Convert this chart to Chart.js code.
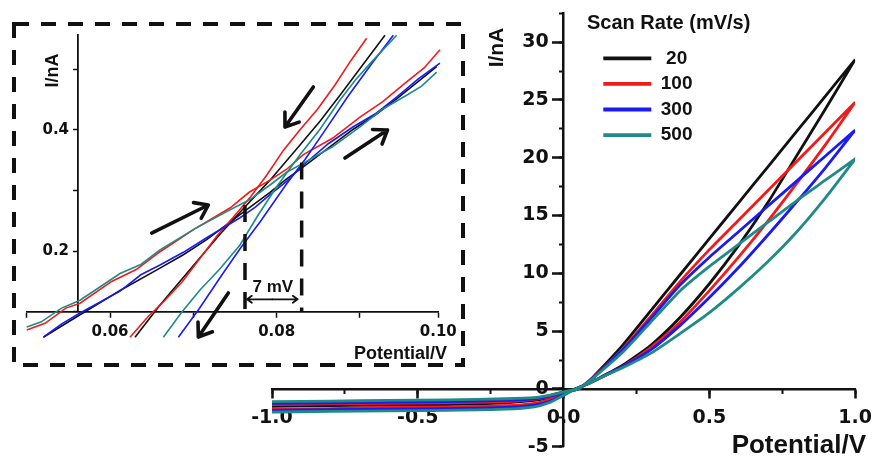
<!DOCTYPE html>
<html>
<head>
<meta charset="utf-8">
<script src="https://cdn.jsdelivr.net/npm/chart.js@4.4.1/dist/chart.umd.min.js"></script>
<style>
html,body{margin:0;padding:0;background:#ffffff;}
#wrap{position:relative;width:882px;height:461px;overflow:hidden;background:#ffffff;}
#main{position:absolute;left:0;top:0;width:882px;height:461px;}
#inset{position:absolute;left:0;top:0;width:480px;height:380px;pointer-events:none;}
</style>
</head>
<body>
<div id="wrap">
<canvas id="main" width="882" height="461"></canvas>
<canvas id="inset" width="480" height="380"></canvas>
</div>
<script>
// ---------------- DATA ----------------
// Main plot: potential grid (V) for the negative and positive halves of the sweep
const potentialNeg = [-1.0, -0.8, -0.6, -0.4, -0.2, -0.1, -0.05, 0.0];
const potentialPos = [0.05, 0.08, 0.1, 0.2, 0.3, 0.4, 0.5, 0.6, 0.7, 0.8, 0.9, 1.0];

const scanRates = [' 20', '100', '300', '500'];
const seriesColors = ['#111111', '#f21a1a', '#1a1af2', '#1f8a86'];

// Forward (increasing V) and reverse (decreasing V) current, nA, on the grid above
const fwd20  = [-1.5, -1.45, -1.4, -1.35, -1.2, -1.0, -0.75, -0.35, 0.1, 0.4, 0.65, 2.0, 3.8, 6.2, 9.1, 12.4, 16.1, 20.2, 24.3, 28.5];
const rev20  = [-1.2, -1.15, -1.1, -1.05, -0.95, -0.8, -0.6, -0.25, 0.0, 0.55, 1.0, 3.7, 6.8, 9.9, 13.0, 16.1, 19.2, 22.3, 25.4, 28.5];
const fwd100 = [-1.75, -1.7, -1.6, -1.55, -1.45, -1.25, -0.95, -0.45, 0.1, 0.4, 0.65, 1.9, 3.6, 5.8, 8.5, 11.4, 14.5, 17.8, 21.2, 24.8];
const rev100 = [-1.35, -1.3, -1.25, -1.2, -1.1, -0.9, -0.7, -0.3, 0.0, 0.5, 0.95, 3.4, 6.3, 9.3, 12.05, 14.6, 17.15, 19.7, 22.25, 24.8];
const fwd300 = [-1.85, -1.8, -1.75, -1.7, -1.6, -1.4, -1.1, -0.5, 0.1, 0.4, 0.65, 1.9, 3.4, 5.5, 7.9, 10.5, 13.3, 16.2, 19.2, 22.4];
const rev300 = [-1.25, -1.2, -1.15, -1.1, -1.0, -0.85, -0.65, -0.3, 0.0, 0.5, 0.95, 3.3, 6.1, 9.0, 11.4, 13.6, 15.8, 18.0, 20.2, 22.4];
const fwd500 = [-2.0, -1.95, -1.9, -1.85, -1.75, -1.55, -1.2, -0.55, 0.1, 0.4, 0.65, 1.8, 3.1, 4.8, 6.6, 8.7, 11.0, 13.6, 16.6, 19.9];
const rev500 = [-1.1, -1.05, -1.0, -0.95, -0.85, -0.75, -0.55, -0.25, 0.0, 0.5, 0.9, 3.1, 5.8, 8.5, 10.6, 12.5, 14.4, 16.3, 18.1, 19.9];

// Main axes tick labels
const mainXTickLabels = ['-1.0', '-0.5', '0.0', '0.5', '1.0'];
const mainYTickLabels = ['-5', '0', '5', '10', '15', '20', '25', '30'];

// Inset (zoom near the crossing point): V and I for forward / reverse branches
const inset20FwdV  = [0.0558, 0.0602, 0.0650, 0.0698, 0.0726, 0.0754, 0.0794, 0.0830, 0.0850, 0.0870, 0.0930, 0.0956, 0.0982, 0.1030];
const inset20FwdI  = [0.104, 0.141, 0.181, 0.218, 0.240, 0.265, 0.306, 0.343, 0.365, 0.385, 0.447, 0.470, 0.497, 0.550];
const inset20RevV  = [0.0668, 0.0698, 0.0746, 0.0770, 0.0794, 0.0830, 0.0866, 0.0890, 0.0914, 0.0968];
const inset20RevI  = [0.104, 0.157, 0.235, 0.274, 0.310, 0.363, 0.421, 0.460, 0.503, 0.602];
const inset100FwdV = [0.0538, 0.0560, 0.0585, 0.0602, 0.0640, 0.0670, 0.0698, 0.0740, 0.0782, 0.0805, 0.0830, 0.0850, 0.0870, 0.0905, 0.0938, 0.0965, 0.0994, 0.1015, 0.1034];
const inset100FwdI = [0.116, 0.127, 0.152, 0.160, 0.196, 0.216, 0.245, 0.283, 0.317, 0.343, 0.363, 0.381, 0.405, 0.432, 0.467, 0.492, 0.525, 0.548, 0.578];
const inset100RevV = [0.0662, 0.0683, 0.0704, 0.0725, 0.0746, 0.0767, 0.0788, 0.0807, 0.0826, 0.0846, 0.0866, 0.0887, 0.0908, 0.0927, 0.0946];
const inset100RevI = [0.104, 0.137, 0.165, 0.196, 0.234, 0.272, 0.305, 0.336, 0.371, 0.412, 0.446, 0.480, 0.520, 0.560, 0.597];
const inset300FwdV = [0.0558, 0.0580, 0.0602, 0.0650, 0.0675, 0.0698, 0.0726, 0.0754, 0.0794, 0.0812, 0.0830, 0.0850, 0.0870, 0.0900, 0.0930, 0.0956, 0.0982, 0.1008, 0.1034];
const inset300FwdI = [0.104, 0.126, 0.144, 0.180, 0.207, 0.223, 0.244, 0.268, 0.301, 0.318, 0.339, 0.361, 0.388, 0.423, 0.451, 0.472, 0.500, 0.530, 0.556];
const inset300RevV = [0.0720, 0.0745, 0.0770, 0.0794, 0.0818, 0.0850, 0.0872, 0.0894, 0.0923, 0.0952, 0.0978];
const inset300RevI = [0.104, 0.151, 0.202, 0.250, 0.294, 0.357, 0.397, 0.441, 0.500, 0.555, 0.602];
const inset500FwdV = [0.0538, 0.0555, 0.0580, 0.0602, 0.0650, 0.0675, 0.0698, 0.0740, 0.0782, 0.0806, 0.0830, 0.0850, 0.0870, 0.0905, 0.0938, 0.0965, 0.0994, 0.1012, 0.1030];
const inset500FwdI = [0.121, 0.129, 0.152, 0.165, 0.209, 0.224, 0.248, 0.283, 0.314, 0.331, 0.355, 0.376, 0.391, 0.418, 0.451, 0.480, 0.503, 0.518, 0.541];
const inset500RevV = [0.0702, 0.0724, 0.0746, 0.0770, 0.0794, 0.0816, 0.0838, 0.0866, 0.0890, 0.0914, 0.0933, 0.0952, 0.0982];
const inset500RevI = [0.104, 0.145, 0.182, 0.217, 0.256, 0.306, 0.352, 0.405, 0.447, 0.495, 0.529, 0.558, 0.602];

const insetXTickLabels = ['0.06', '0.08', '0.10'];
const insetYTickLabels = ['0.2', '0.4'];

// Inset annotations (data units)
const crossPotentials = [0.0800, 0.0868];   // dashed markers
const crossCurrents   = [0.322, 0.392];
const gapLabel = '7 mV';
const gapCurrent = 0.1665;
const gapLabelCurrent = 0.187;
const arrowTailV = [0.0688, 0.0882, 0.0920, 0.0780];
const arrowTailI = [0.2758, 0.5166, 0.3995, 0.1769];
const arrowHeadV = [0.0756, 0.0848, 0.0971, 0.0744];
const arrowHeadI = [0.3220, 0.4506, 0.4457, 0.1044];

const xTitle = 'Potential/V';
const yTitle = 'I/nA';
const legendTitle = 'Scan Rate (mV/s)';

// ---------------- STYLE ----------------
const TICK_FAMILY = "'DejaVu Sans', Verdana, sans-serif";
const TEXT_FAMILY = "'Liberation Sans', Arial, Helvetica, sans-serif";
const INK = '#111111';

// ---------------- BUILD ----------------
function loopPoints(fwd, rev) {
  const grid = potentialNeg.concat(potentialPos);
  const pts = grid.map((v, i) => ({x: v, y: fwd[i]}));
  for (let i = grid.length - 1; i >= 0; i--) pts.push({x: grid[i], y: rev[i]});
  return pts;
}
function pairPoints(vs, is) { return vs.map((v, i) => ({x: v, y: is[i]})); }

const mainFwd = [fwd20, fwd100, fwd300, fwd500];
const mainRev = [rev20, rev100, rev300, rev500];

const mainDatasets = scanRates.map((lab, k) => ({
  label: lab,
  data: loopPoints(mainFwd[k], mainRev[k]),
  showLine: true,
  borderColor: seriesColors[k],
  backgroundColor: seriesColors[k],
  borderWidth: 2.8,
  pointRadius: 0,
  tension: 0.2,
  order: 4 - k
}));

const legendPlacer = {
  id: 'legendPlacer',
  afterLayout(chart) {
    const lg = chart.legend;
    if (!lg) return;
    const w = lg.width, h = lg.height;
    lg.left = 596.7; lg.top = 42.2;
    lg.right = lg.left + w; lg.bottom = lg.top + h;
  }
};

const mainText = {
  id: 'mainText',
  afterDraw(chart) {
    const ctx = chart.ctx;
    ctx.save();
    ctx.fillStyle = INK;
    ctx.textBaseline = 'alphabetic';
    ctx.textAlign = 'left';
    ctx.font = 'bold 20px ' + TEXT_FAMILY;
    ctx.fillText(legendTitle, 587, 29.3);
    ctx.textAlign = 'right';
    ctx.font = 'bold 26px ' + TEXT_FAMILY;
    ctx.fillText(xTitle, 866, 453);
    ctx.translate(497, 47.5);
    ctx.rotate(-Math.PI / 2);
    ctx.textAlign = 'center';
    ctx.textBaseline = 'middle';
    ctx.font = 'bold 21px ' + TEXT_FAMILY;
    ctx.fillText(yTitle, 0, 0);
    ctx.restore();
  }
};

// y-axis labels sit 15 px left of the main y axis (value in x-units)
const MAIN_YLABEL_X = -15 / 295.5;
// inset y labels sit ~9 px left of the inset y axis
const INSET_YLABEL_X = 0.06 - 9.3 / 8332;

new Chart(document.getElementById('main'), {
  type: 'scatter',
  data: {datasets: mainDatasets},
  options: {
    responsive: false,
    animation: false,
    events: [],
    layout: {padding: {left: 272, right: 19, top: 13.3, bottom: 14.3}},
    plugins: {
      legend: {
        display: true,
        position: 'chartArea',
        align: 'start',
        labels: {
          usePointStyle: true,
          pointStyle: 'line',
          pointStyleWidth: 48,
          padding: 6.6,
          color: INK,
          font: {family: TEXT_FAMILY, size: 19, weight: 'bold'},
          sort: (a, b) => a.datasetIndex - b.datasetIndex,
          generateLabels: chart => Chart.defaults.plugins.legend.labels.generateLabels(chart)
            .map(l => Object.assign(l, {lineWidth: 3.8}))
        }
      },
      tooltip: {enabled: false}
    },
    scales: {
      x: {
        type: 'linear', axis: 'x', bounds: 'data', min: -1, max: 1,
        position: {y: 0},
        afterFit: s => { s.height = 0; },
        border: {display: true, color: INK, width: 2.5},
        grid: {drawOnChartArea: false, drawTicks: true, tickLength: 8, tickWidth: 2.5, tickColor: INK},
        ticks: {
          stepSize: 0.5, includeBounds: false, autoSkip: false, maxRotation: 0, padding: 10, color: INK,
          font: {family: TICK_FAMILY, size: 19, weight: 'bold'},
          callback: v => { const s = Number(v).toFixed(1); return mainXTickLabels.includes(s) ? s : ''; }
        }
      },
      xMinor: {
        type: 'linear', axis: 'x', bounds: 'data', min: -1, max: 1,
        position: {y: 0},
        afterFit: s => { s.height = 0; },
        border: {display: false},
        grid: {drawOnChartArea: false, drawTicks: true, tickLength: 5, tickWidth: 2, tickColor: INK},
        ticks: {stepSize: 0.25, includeBounds: false, autoSkip: false, display: false}
      },
      y: {
        type: 'linear', axis: 'y', bounds: 'data', min: -5, max: 32.5,
        position: {x: 0},
        afterFit: s => { s.width = 0; },
        border: {display: true, color: INK, width: 2.5},
        grid: {drawOnChartArea: false, drawTicks: true, tickLength: 10, tickWidth: 2.5, tickColor: INK},
        ticks: {stepSize: 5, includeBounds: false, autoSkip: false, display: false}
      },
      yLabels: {
        type: 'linear', axis: 'y', bounds: 'data', min: -5, max: 32.5,
        position: {x: MAIN_YLABEL_X},
        afterFit: s => { s.width = 0; },
        border: {display: false},
        grid: {drawOnChartArea: false, drawTicks: false},
        ticks: {
          stepSize: 5, includeBounds: false, autoSkip: false, padding: 0, color: INK,
          font: {family: TICK_FAMILY, size: 19, weight: 'bold'},
          callback: v => { const s = String(Math.round(v)); return mainYTickLabels.includes(s) ? s : ''; }
        }
      },
      yMinor: {
        type: 'linear', axis: 'y', bounds: 'data', min: -5, max: 32.5,
        position: {x: 0},
        afterFit: s => { s.width = 0; },
        border: {display: false},
        grid: {drawOnChartArea: false, drawTicks: true, tickLength: 5, tickWidth: 2, tickColor: INK},
        ticks: {stepSize: 2.5, includeBounds: false, autoSkip: false, display: false}
      }
    }
  },
  plugins: [legendPlacer, mainText]
});

// ---------------- INSET ----------------
const insetSeries = [
  [inset20FwdV, inset20FwdI, inset20RevV, inset20RevI],
  [inset100FwdV, inset100FwdI, inset100RevV, inset100RevI],
  [inset300FwdV, inset300FwdI, inset300RevV, inset300RevI],
  [inset500FwdV, inset500FwdI, inset500RevV, inset500RevI]
];
const insetDatasets = [];
insetSeries.forEach((s, k) => {
  [[s[0], s[1]], [s[2], s[3]]].forEach(pair => {
    insetDatasets.push({
      label: scanRates[k],
      data: pairPoints(pair[0], pair[1]),
      showLine: true,
      borderColor: seriesColors[k],
      borderWidth: 1.6,
      pointRadius: 0,
      tension: 0,
      clip: false,
      order: 4 - k
    });
  });
});

function drawArrow(ctx, x1, y1, x2, y2, head, width) {
  const ang = Math.atan2(y2 - y1, x2 - x1);
  ctx.lineWidth = width;
  ctx.lineCap = 'round';
  ctx.lineJoin = 'round';
  ctx.beginPath();
  ctx.moveTo(x1, y1); ctx.lineTo(x2, y2);
  ctx.moveTo(x2 - head * Math.cos(ang - 0.62), y2 - head * Math.sin(ang - 0.62));
  ctx.lineTo(x2, y2);
  ctx.lineTo(x2 - head * Math.cos(ang + 0.62), y2 - head * Math.sin(ang + 0.62));
  ctx.stroke();
}

const insetDecor = {
  id: 'insetDecor',
  afterDraw(chart) {
    const ctx = chart.ctx;
    const xs = chart.scales.x, ys = chart.scales.y;
    ctx.save();
    ctx.strokeStyle = INK;
    ctx.fillStyle = INK;
    // dashed frame
    ctx.lineWidth = 4;
    ctx.setLineDash([15, 12]);
    ctx.strokeRect(14, 24, 449, 341);
    // dashed markers at the crossing potentials
    ctx.lineWidth = 3.5;
    ctx.setLineDash([17, 12]);
    crossPotentials.forEach((v, i) => {
      const px = xs.getPixelForValue(v);
      ctx.beginPath();
      ctx.moveTo(px, ys.getPixelForValue(crossCurrents[i]));
      ctx.lineTo(px, ys.getPixelForValue(ys.min));
      ctx.stroke();
    });
    ctx.setLineDash([]);
    // sweep direction arrows
    arrowTailV.forEach((v, i) => {
      drawArrow(ctx, xs.getPixelForValue(v), ys.getPixelForValue(arrowTailI[i]),
        xs.getPixelForValue(arrowHeadV[i]), ys.getPixelForValue(arrowHeadI[i]), 15, 3.6);
    });
    // 7 mV gap marker
    const gx1 = xs.getPixelForValue(crossPotentials[0]) + 2;
    const gx2 = xs.getPixelForValue(crossPotentials[1]) - 4;
    const gy = ys.getPixelForValue(gapCurrent);
    const gm = (gx1 + gx2) / 2;
    drawArrow(ctx, gm, gy, gx1, gy, 6, 1.8);
    drawArrow(ctx, gm, gy, gx2, gy, 6, 1.8);
    ctx.font = 'bold 17px ' + TEXT_FAMILY;
    ctx.textAlign = 'center';
    ctx.textBaseline = 'middle';
    ctx.fillText(gapLabel, gm + 0.5, ys.getPixelForValue(gapLabelCurrent));
    // titles
    ctx.font = 'bold 18px ' + TEXT_FAMILY;
    ctx.textAlign = 'right';
    ctx.textBaseline = 'alphabetic';
    ctx.fillText(xTitle, 447, 359);
    ctx.translate(53.5, 70.5);
    ctx.rotate(-Math.PI / 2);
    ctx.textAlign = 'center';
    ctx.textBaseline = 'middle';
    ctx.fillText(yTitle, 0, 0);
    ctx.restore();
  }
};

new Chart(document.getElementById('inset'), {
  type: 'scatter',
  data: {datasets: insetDatasets},
  options: {
    responsive: false,
    animation: false,
    events: [],
    layout: {padding: {left: 26.7, right: 41.7, top: 35.2, bottom: 68.25}},
    plugins: {legend: {display: false}, tooltip: {enabled: false}},
    scales: {
      x: {
        type: 'linear', bounds: 'data', min: 0.0538, max: 0.1032,
        position: {y: 0.146},
        afterFit: s => { s.height = 0; },
        border: {display: true, color: INK, width: 1.8},
        grid: {drawOnChartArea: false, drawTicks: true, tickLength: 5, tickWidth: 1.5, tickColor: INK},
        ticks: {
          stepSize: 0.01, includeBounds: false, autoSkip: false, maxRotation: 0, padding: 6, color: INK,
          font: {family: TICK_FAMILY, size: 15, weight: 'bold'},
          callback: v => { const s = Number(v).toFixed(2); return insetXTickLabels.includes(s) ? s : ''; }
        }
      },
      y: {
        type: 'linear', bounds: 'data', min: 0.146, max: 0.602,
        position: {x: 0.06},
        afterFit: s => { s.width = 0; },
        border: {display: true, color: INK, width: 1.8},
        grid: {
          drawOnChartArea: false, drawTicks: true, tickLength: 4, tickWidth: 1.5,
          tickColor: c => (c.tick && c.tick.value > 0.55) ? 'rgba(0,0,0,0)' : INK
        },
        ticks: {stepSize: 0.1, includeBounds: false, autoSkip: false, display: false}
      },
      yLabels: {
        type: 'linear', axis: 'y', bounds: 'data', min: 0.146, max: 0.602,
        position: {x: INSET_YLABEL_X},
        afterFit: s => { s.width = 0; },
        border: {display: false},
        grid: {drawOnChartArea: false, drawTicks: false},
        ticks: {
          stepSize: 0.1, includeBounds: false, autoSkip: false, padding: 0, color: INK,
          font: {family: TICK_FAMILY, size: 15, weight: 'bold'},
          callback: v => { const s = Number(v).toFixed(1); return insetYTickLabels.includes(s) ? s : ''; }
        }
      }
    }
  },
  plugins: [insetDecor]
});
</script>
</body>
</html>
